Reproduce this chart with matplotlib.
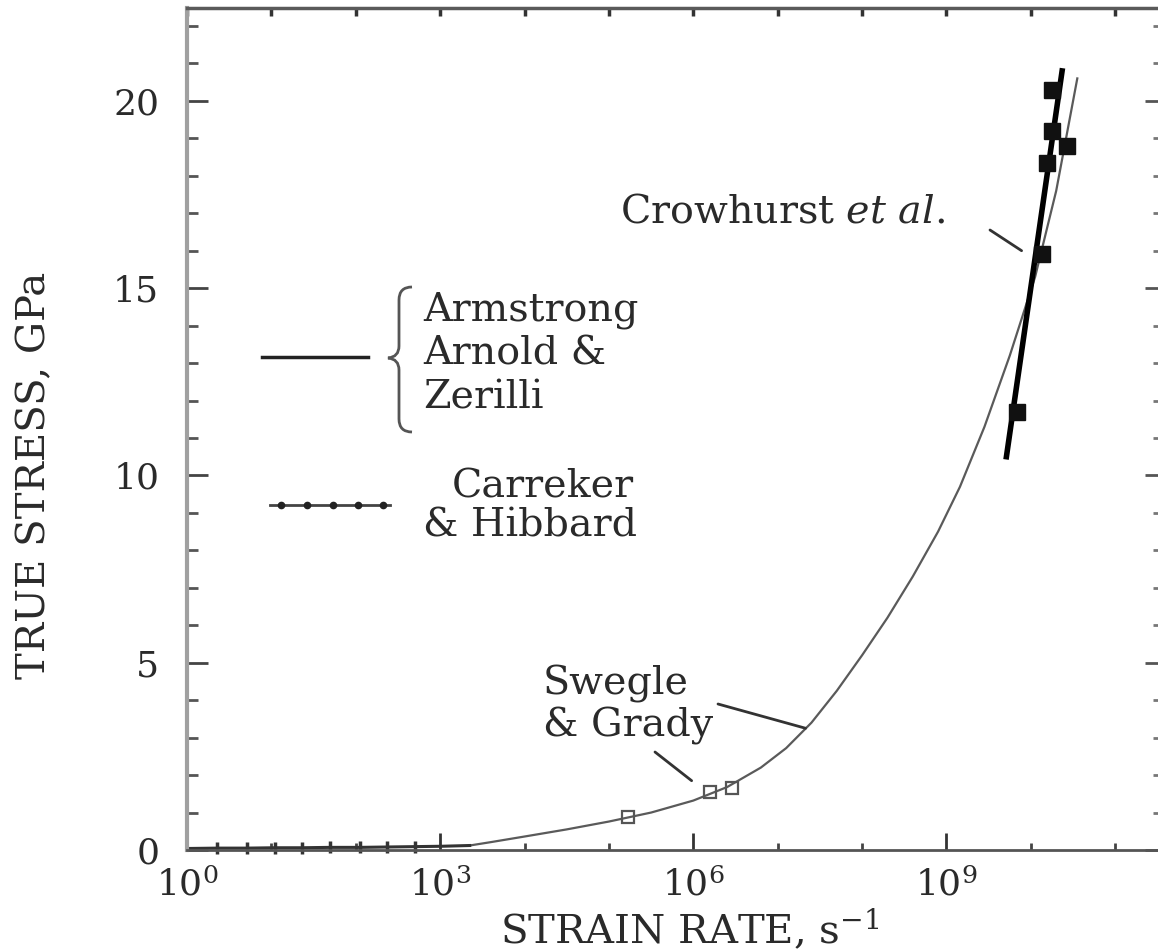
import numpy as np
import matplotlib.pyplot as plt
from matplotlib.path import Path
from matplotlib.patches import PathPatch
from matplotlib.ticker import FixedLocator, NullFormatter

plt.rcParams['font.family'] = ['DejaVu Serif']
plt.rcParams['mathtext.fontset'] = 'dejavuserif'

# Armstrong, Arnold & Zerilli model curve (log10 strain rate, GPa)
aaz_log_rate = [3.35, 3.6, 4.0, 4.5, 5.0, 5.5, 6.0, 6.4, 6.8, 7.1, 7.4, 7.7, 8.0,
                8.3, 8.6, 8.9, 9.16, 9.45, 9.75, 10.05, 10.3, 10.55]
aaz_stress = [0.12, 0.21, 0.36, 0.55, 0.76, 1.0, 1.32, 1.68, 2.2, 2.72, 3.4, 4.25,
              5.2, 6.2, 7.3, 8.5, 9.7, 11.3, 13.2, 15.3, 17.6, 20.6]

# Crowhurst et al. points and their fit line
crow_log_rate = [9.83, 10.13, 10.19, 10.25, 10.25, 10.43]
crow_stress = [11.7, 15.9, 18.35, 19.2, 20.3, 18.8]
crow_fit_log_rate = [9.71, 10.37]
crow_fit_stress = [10.5, 20.8]

# Swegle & Grady
swegle_log_rate = [5.22, 6.2, 6.46]
swegle_stress = [0.88, 1.55, 1.65]

# Carreker & Hibbard
carreker_log_rate = [0.0, 0.36, 0.71, 1.04, 1.36, 1.69, 2.05, 2.37, 2.70, 3.02, 3.35]
carreker_stress = [0.04, 0.05, 0.05, 0.06, 0.06, 0.07, 0.07, 0.08, 0.09, 0.10, 0.12]

xmajor = [1e0, 1e3, 1e6, 1e9]
xmajor_labels = [r'$10^{0}$', r'$10^{3}$', r'$10^{6}$', r'$10^{9}$']
xminor = [1e1, 1e2, 1e4, 1e5, 1e7, 1e8, 1e10, 1e11]
ymajor = [0, 5, 10, 15, 20]

W, H = 1158, 952
fig = plt.figure(figsize=(W / 100, H / 100), dpi=100)

# axes box in pixels: left 187, right 1160 (just past the edge), top 8, bottom 850
L, R, T, B = 187, 1160, 8, 850
ax = fig.add_axes([L / W, (H - B) / H, (R - L) / W, (B - T) / H])


def fx(px):
    return (px - L) / (R - L)


def fy(py):
    return (B - py) / (B - T)


ax.set_xscale('log')
ax.set_xlim(1, 10 ** 11.53)
ax.set_ylim(0, 22.48)

ink = '#2a2a2a'

ax.plot(10 ** np.array(aaz_log_rate), aaz_stress, '-', color='#5a5a5a', lw=1.6)
ax.plot(10 ** np.array(crow_fit_log_rate), crow_fit_stress, '-', color='black', lw=4)
ax.plot(10 ** np.array(crow_log_rate), crow_stress, 's', color='#111111', ms=11)
ax.plot(10 ** np.array(swegle_log_rate), swegle_stress, 's', mfc='none',
        mec='#555555', mew=1.6, ms=8)
ax.plot(10 ** np.array(carreker_log_rate), carreker_stress, '-', color='#333333',
        lw=2.2, marker='|', ms=8, mew=2.5, markevery=slice(1, 9), clip_on=False)

# ticks
ax.xaxis.set_major_locator(FixedLocator(xmajor))
ax.set_xticklabels(xmajor_labels)
ax.xaxis.set_minor_locator(FixedLocator(xminor))
ax.xaxis.set_minor_formatter(NullFormatter())
ax.set_yticks(ymajor)
ax.yaxis.set_minor_locator(FixedLocator(np.arange(0, 23, 1)))
ax.tick_params(axis='x', which='major', direction='in', length=12, width=2,
               color='#333333', labelsize=26, labelcolor=ink, pad=13)
ax.tick_params(axis='x', which='minor', direction='in', length=5, width=2,
               color='#444444')
ax.tick_params(axis='y', which='major', direction='in', length=15, width=2,
               color='#444444', labelsize=26, labelcolor=ink, pad=20)
ax.tick_params(axis='y', which='minor', direction='in', length=8, width=2,
               color='#555555')

secx = ax.secondary_xaxis('top')
secx.xaxis.set_major_locator(FixedLocator(xmajor + xminor))
secx.xaxis.set_minor_locator(FixedLocator([]))
secx.tick_params(axis='x', which='major', direction='in', length=6, width=2.5,
                 color='#333333', labeltop=False)
secy = ax.secondary_yaxis('right')
secy.yaxis.set_major_locator(FixedLocator(ymajor))
secy.yaxis.set_minor_locator(FixedLocator(np.arange(0, 23, 1)))
secy.tick_params(axis='y', which='major', direction='in', length=11, width=2,
                 color='#555555', labelright=False)
secy.tick_params(axis='y', which='minor', direction='in', length=5, width=2,
                 color='#777777')
for s in list(secx.spines.values()) + list(secy.spines.values()):
    s.set_visible(False)

ax.spines['left'].set_color('#a0a0a0')
ax.spines['left'].set_linewidth(3)
ax.spines['bottom'].set_color('#555555')
ax.spines['bottom'].set_linewidth(2)
ax.spines['top'].set_color('#5a5a5a')
ax.spines['top'].set_linewidth(2.5)
ax.spines['right'].set_visible(False)

ax.set_xlabel(r'STRAIN RATE, s$^{\mathregular{-1}}$', fontsize=29, color=ink)
ax.xaxis.set_label_coords(fx(690), fy(944))
ax.xaxis.label.set_va('baseline')
ax.set_ylabel('TRUE STRESS, GPa', fontsize=29, color=ink)
ax.yaxis.set_label_coords(fx(35), fy(475))
ax.yaxis.label.set_va('center')

# annotations
txt = dict(transform=ax.transAxes, fontsize=28.5, color=ink, va='center', ha='left')
ax.text(fx(620), fy(212), r'Crowhurst $\mathit{et\ al.}$', **txt)
ax.text(fx(423), fy(310), 'Armstrong', **txt)
ax.text(fx(423), fy(354), 'Arnold &', **txt)
ax.text(fx(423), fy(398), 'Zerilli', **txt)
ax.text(fx(452), fy(487), 'Carreker', **txt)
ax.text(fx(423), fy(526), '& Hibbard', **txt)
ax.text(fx(543), fy(684), 'Swegle', **txt)
ax.text(fx(543), fy(726), '& Grady', **txt)

lead = dict(arrowstyle='-', color='#333333', lw=2, shrinkA=0, shrinkB=0)
ax.annotate('', xy=(10 ** 9.89, 16.0), xytext=(fx(990), fy(230)),
            textcoords='axes fraction', arrowprops=lead)
ax.annotate('', xy=(10 ** 7.33, 3.25), xytext=(fx(718), fy(704)),
            textcoords='axes fraction', arrowprops=lead)
ax.annotate('', xy=(10 ** 5.98, 1.85), xytext=(fx(655), fy(752)),
            textcoords='axes fraction', arrowprops=lead)

# legend keys
ax.plot([fx(262), fx(368)], [fy(357), fy(357)], '-', color='#222222', lw=2.5,
        transform=ax.transAxes)
ax.plot([fx(270), fx(390)], [fy(505), fy(505)], '-', color='#444444', lw=2,
        transform=ax.transAxes)
ax.plot([fx(p) for p in (281, 307, 333, 358, 383)], [fy(505)] * 5, 'o',
        color='#222222', ms=4.5, transform=ax.transAxes)

# brace
bx = [(412, 287), (399, 287), (399, 300), (399, 346), (399, 357), (388, 358),
      (399, 359), (399, 370), (399, 419), (399, 432), (412, 432)]
codes = [Path.MOVETO, Path.CURVE3, Path.CURVE3, Path.LINETO, Path.CURVE3,
         Path.CURVE3, Path.CURVE3, Path.CURVE3, Path.LINETO, Path.CURVE3,
         Path.CURVE3]
brace = Path([(fx(a), fy(b)) for a, b in bx], codes)
ax.add_patch(PathPatch(brace, fill=False, ec='#555555', lw=2,
                       transform=ax.transAxes))

fig.savefig('out.png', dpi=100)
